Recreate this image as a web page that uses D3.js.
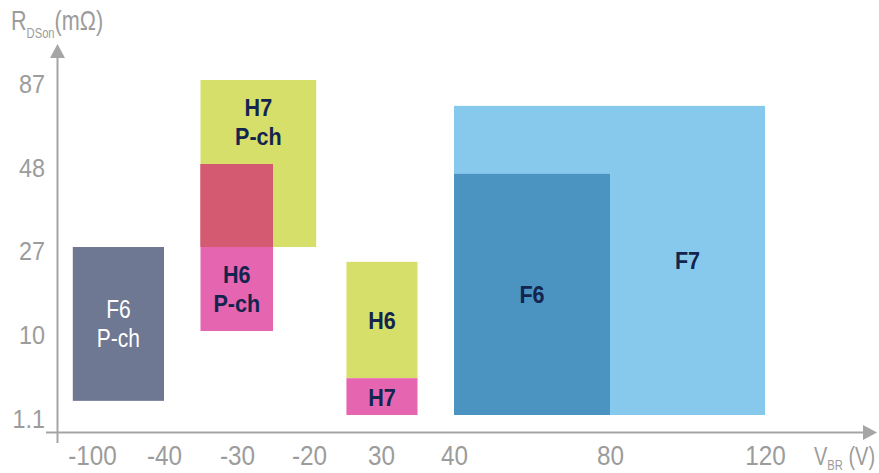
<!DOCTYPE html>
<html><head><meta charset="utf-8">
<script src="https://cdn.jsdelivr.net/npm/d3@7"></script>
<style>
body{margin:0;background:#fff;}
svg{display:block;font-family:"Liberation Sans",Arial,sans-serif;}
</style></head><body>
<svg id="chart" width="879" height="473"></svg>
<script>
// ---- data ----
const xTickValues = [-100, -40, -30, -20, 30, 40, 80, 120];     // V_BR (V)
const yTickValues = [1.1, 10, 27, 48, 87];                       // RDSon (mΩ)
const yTickLabels = ["1.1", "10", "27", "48", "87"];
const families = ["F6 P-ch", "H7 P-ch", "H6 P-ch", "H6", "H7", "F7", "F6"];
const vbrMin   = [-116, -35, -35, 6, 6, 40, 40];
const vbrMax   = [-40, -15, -25, 35, 35, 120, 80];
const rdsMin   = [2.6, 27, 10, 5, 1.1, 1.1, 1.1];
const rdsMax   = [27, 87, 48, 24, 5, 75, 45.5];

// ---- styles ----
const fillColor = {"F6 P-ch":"#6e7893","H7 P-ch":"#d5df6a","H6 P-ch":"#e665b0","H6":"#d5df6a","H7":"#e665b0","F7":"#87c9ec","F6":"#4b94c2"};
const textColor = {"F6 P-ch":"#ffffff"};
const overlapColor = "#d45a72";
const navy = "#13244e", grey = "#9c9c9c", axisGrey = "#a5a5a5";
const NUM_SX = 0.9, LBL_SX = 0.88, TTL_SX = 0.8;   // condensed look

const svg = d3.select("#chart");

// piecewise (non-uniform) scales, as in the schematic
const x = d3.scaleLinear().domain(xTickValues).range([92, 164, 237, 309, 381, 454, 610, 765]);
const y = d3.scaleLinear().domain(yTickValues).range([415, 331, 247, 164, 80]);

const boxes = families.map((f, i) => ({
  name: f, x0: x(vbrMin[i]), x1: x(vbrMax[i]), y0: y(rdsMax[i]), y1: y(rdsMin[i])
}));

function inter(a, b) {
  const r = {x0: Math.max(a.x0, b.x0), x1: Math.min(a.x1, b.x1), y0: Math.max(a.y0, b.y0), y1: Math.min(a.y1, b.y1)};
  return (r.x1 - r.x0 > 0.5 && r.y1 - r.y0 > 0.5) ? r : null;
}
const within = (a, b) => a.x0 >= b.x0 - 0.5 && a.x1 <= b.x1 + 0.5 && a.y0 >= b.y0 - 0.5 && a.y1 <= b.y1 + 0.5;
const area = r => Math.max(0, r.x1 - r.x0) * Math.max(0, r.y1 - r.y0);

// rectangles
const g = svg.append("g");
boxes.forEach(b => {
  g.append("rect").attr("x", b.x0).attr("y", b.y0)
    .attr("width", b.x1 - b.x0).attr("height", b.y1 - b.y0)
    .attr("fill", fillColor[b.name]);
});
// partial overlaps
for (let i = 0; i < boxes.length; i++) for (let j = i + 1; j < boxes.length; j++) {
  const a = boxes[i], b = boxes[j], r = inter(a, b);
  if (r && !within(a, b) && !within(b, a)) {
    g.append("rect").attr("x", r.x0).attr("y", r.y0)
      .attr("width", r.x1 - r.x0).attr("height", r.y1 - r.y0).attr("fill", overlapColor);
  }
}
// labels in the free part of each box
boxes.forEach((b, i) => {
  let A = {...b};
  boxes.forEach((o, j) => {
    if (i === j) return;
    const r = inter(A, o);
    if (!r || within(A, o)) return;
    const bands = [
      {x0: A.x0, x1: A.x1, y0: A.y0, y1: r.y0},
      {x0: A.x0, x1: A.x1, y0: r.y1, y1: A.y1},
      {x0: A.x0, x1: r.x0, y0: A.y0, y1: A.y1},
      {x0: r.x1, x1: A.x1, y0: A.y0, y1: A.y1}
    ];
    A = bands.reduce((m, c) => area(c) > area(m) ? c : m);
  });
  const lines = b.name.split(" ");
  const lh = 29, cx = (A.x0 + A.x1) / 2, cy = (A.y0 + A.y1) / 2;
  const white = textColor[b.name];
  const t = g.append("text").attr("text-anchor", "middle")
    .attr("transform", `translate(${cx},0) scale(${white ? 0.84 : LBL_SX},1)`)
    .attr("font-size", white ? 25 : 24.5).attr("font-weight", white ? "normal" : "bold")
    .attr("fill", white || navy);
  lines.forEach((l, k) => {
    t.append("tspan").attr("x", 0)
      .attr("y", cy + (k - (lines.length - 1) / 2) * lh + 9).text(l);
  });
});

// axes (labels only, via d3 axes)
const xAxis = svg.append("g").attr("transform", "translate(0,432)")
  .call(d3.axisBottom(x).tickValues(xTickValues).tickSize(0).tickPadding(14).tickFormat(d => String(d)));
xAxis.select(".domain").remove();
xAxis.selectAll("text").attr("font-size", 27).attr("fill", grey).attr("font-family", null)
  .attr("transform", `scale(${NUM_SX},1)`);

const yAxis = svg.append("g").attr("transform", "translate(58,0)")
  .call(d3.axisLeft(y).tickValues(yTickValues).tickSize(0).tickFormat((d, i) => yTickLabels[i]));
yAxis.select(".domain").remove();
yAxis.selectAll("text").attr("font-size", 26).attr("fill", grey).attr("dy", "0.48em").attr("font-family", null)
  .attr("x", -13 / NUM_SX).attr("transform", `scale(${NUM_SX},1)`);

// axis lines with arrows
svg.append("line").attr("x1", 46).attr("x2", 864).attr("y1", 432.5).attr("y2", 432.5)
  .attr("stroke", axisGrey).attr("stroke-width", 2);
svg.append("path").attr("d", "M863,425L877,432.5L863,440Z").attr("fill", axisGrey);
svg.append("line").attr("x1", 57.5).attr("x2", 57.5).attr("y1", 443).attr("y2", 57)
  .attr("stroke", axisGrey).attr("stroke-width", 2);
svg.append("path").attr("d", "M50,58L57.5,44L65,58Z").attr("fill", axisGrey);

// axis titles
const yt = svg.append("text").attr("transform", `translate(11,30) scale(${TTL_SX},1)`)
  .attr("fill", grey).attr("font-size", 27);
yt.append("tspan").text("R");
yt.append("tspan").attr("font-size", 14).attr("dy", 8).text("DSon");
yt.append("tspan").attr("dy", -8).text("(mΩ)");

const xt = svg.append("text").attr("transform", `translate(814,465) scale(${TTL_SX},1)`)
  .attr("fill", grey).attr("font-size", 25);
xt.append("tspan").text("V");
xt.append("tspan").attr("font-size", 14).attr("dy", 5).text("BR");
xt.append("tspan").attr("dy", -5).text(" (V)");
</script>
</body></html>
